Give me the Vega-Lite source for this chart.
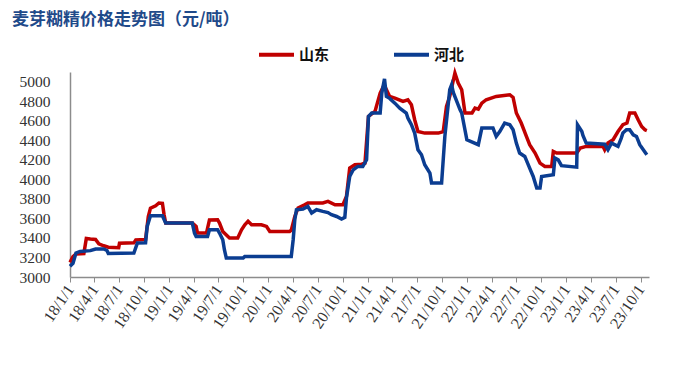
{
  "$schema": "https://vega.github.io/schema/vega-lite/v6.json",
  "width": 579,
  "height": 205,
  "autosize": {"type": "none"},
  "padding": {"left": 70, "top": 72, "right": 51, "bottom": 96},
  "background": "white",
  "config": {"view": {"stroke": null}},
  "title": {
    "text": "麦芽糊精价格走势图（元/吨）",
    "anchor": "start",
    "frame": "group",
    "dx": -58,
    "offset": 6,
    "font": "Noto Sans CJK SC",
    "fontSize": 17,
    "fontWeight": "bold",
    "color": "#1F4A8A"
  },
  "data": {
    "values": [
      {"date": "2018-01-01", "series": "山东", "price": 3150},
      {"date": "2018-01-12", "series": "山东", "price": 3210},
      {"date": "2018-01-23", "series": "山东", "price": 3235},
      {"date": "2018-02-21", "series": "山东", "price": 3240},
      {"date": "2018-03-02", "series": "山东", "price": 3395},
      {"date": "2018-03-17", "series": "山东", "price": 3390},
      {"date": "2018-04-05", "series": "山东", "price": 3385},
      {"date": "2018-04-17", "series": "山东", "price": 3340},
      {"date": "2018-05-05", "series": "山东", "price": 3320},
      {"date": "2018-05-22", "series": "山东", "price": 3305},
      {"date": "2018-06-29", "series": "山东", "price": 3300},
      {"date": "2018-07-02", "series": "山东", "price": 3345},
      {"date": "2018-08-24", "series": "山东", "price": 3350},
      {"date": "2018-08-31", "series": "山东", "price": 3380},
      {"date": "2018-10-06", "series": "山东", "price": 3385},
      {"date": "2018-10-16", "series": "山东", "price": 3620},
      {"date": "2018-10-24", "series": "山东", "price": 3705},
      {"date": "2018-11-12", "series": "山东", "price": 3730},
      {"date": "2018-11-24", "series": "山东", "price": 3758},
      {"date": "2018-12-07", "series": "山东", "price": 3755},
      {"date": "2018-12-13", "series": "山东", "price": 3640},
      {"date": "2018-12-19", "series": "山东", "price": 3553},
      {"date": "2019-03-27", "series": "山东", "price": 3553},
      {"date": "2019-04-10", "series": "山东", "price": 3518},
      {"date": "2019-04-15", "series": "山东", "price": 3450},
      {"date": "2019-05-18", "series": "山东", "price": 3450},
      {"date": "2019-05-29", "series": "山东", "price": 3585},
      {"date": "2019-06-28", "series": "山东", "price": 3587},
      {"date": "2019-07-05", "series": "山东", "price": 3553},
      {"date": "2019-07-17", "series": "山东", "price": 3467},
      {"date": "2019-08-05", "series": "山东", "price": 3416},
      {"date": "2019-08-11", "series": "山东", "price": 3400},
      {"date": "2019-09-10", "series": "山东", "price": 3400},
      {"date": "2019-09-24", "series": "山东", "price": 3484},
      {"date": "2019-10-06", "series": "山东", "price": 3535},
      {"date": "2019-10-18", "series": "山东", "price": 3570},
      {"date": "2019-10-31", "series": "山东", "price": 3535},
      {"date": "2019-12-06", "series": "山东", "price": 3535},
      {"date": "2019-12-25", "series": "山东", "price": 3518},
      {"date": "2020-01-06", "series": "山东", "price": 3467},
      {"date": "2020-03-19", "series": "山东", "price": 3467},
      {"date": "2020-03-25", "series": "山东", "price": 3480},
      {"date": "2020-04-07", "series": "山东", "price": 3620},
      {"date": "2020-04-19", "series": "山东", "price": 3707},
      {"date": "2020-05-13", "series": "山东", "price": 3740},
      {"date": "2020-05-25", "series": "山东", "price": 3758},
      {"date": "2020-07-19", "series": "山东", "price": 3758},
      {"date": "2020-08-07", "series": "山东", "price": 3774},
      {"date": "2020-09-02", "series": "山东", "price": 3740},
      {"date": "2020-10-01", "series": "山东", "price": 3740},
      {"date": "2020-10-14", "series": "山东", "price": 3826},
      {"date": "2020-10-26", "series": "山东", "price": 4116},
      {"date": "2020-11-14", "series": "山东", "price": 4150},
      {"date": "2020-12-09", "series": "山东", "price": 4155},
      {"date": "2020-12-21", "series": "山东", "price": 4165},
      {"date": "2021-01-03", "series": "山东", "price": 4645},
      {"date": "2021-01-27", "series": "山东", "price": 4696},
      {"date": "2021-02-15", "series": "山东", "price": 4884},
      {"date": "2021-02-27", "series": "山东", "price": 4952},
      {"date": "2021-03-03", "series": "山东", "price": 4960},
      {"date": "2021-03-22", "series": "山东", "price": 4850},
      {"date": "2021-04-10", "series": "山东", "price": 4833},
      {"date": "2021-05-10", "series": "山东", "price": 4798},
      {"date": "2021-05-28", "series": "山东", "price": 4815},
      {"date": "2021-06-10", "series": "山东", "price": 4764},
      {"date": "2021-06-22", "series": "山东", "price": 4611},
      {"date": "2021-07-04", "series": "山东", "price": 4490},
      {"date": "2021-07-29", "series": "山东", "price": 4474},
      {"date": "2021-09-17", "series": "山东", "price": 4474},
      {"date": "2021-10-05", "series": "山东", "price": 4490},
      {"date": "2021-10-17", "series": "山东", "price": 4747},
      {"date": "2021-10-29", "series": "山东", "price": 4850},
      {"date": "2021-11-17", "series": "山东", "price": 5089},
      {"date": "2021-11-29", "series": "山东", "price": 4986},
      {"date": "2021-12-12", "series": "山东", "price": 4918},
      {"date": "2021-12-18", "series": "山东", "price": 4800},
      {"date": "2021-12-24", "series": "山东", "price": 4680},
      {"date": "2022-01-19", "series": "山东", "price": 4680},
      {"date": "2022-01-30", "series": "山东", "price": 4730},
      {"date": "2022-02-11", "series": "山东", "price": 4720},
      {"date": "2022-02-24", "series": "山东", "price": 4781},
      {"date": "2022-03-12", "series": "山东", "price": 4816},
      {"date": "2022-04-18", "series": "山东", "price": 4850},
      {"date": "2022-06-07", "series": "山东", "price": 4867},
      {"date": "2022-06-19", "series": "山东", "price": 4840},
      {"date": "2022-07-01", "series": "山东", "price": 4680},
      {"date": "2022-07-19", "series": "山东", "price": 4577},
      {"date": "2022-08-07", "series": "山东", "price": 4440},
      {"date": "2022-08-19", "series": "山东", "price": 4355},
      {"date": "2022-09-08", "series": "山东", "price": 4270},
      {"date": "2022-09-26", "series": "山东", "price": 4167},
      {"date": "2022-10-14", "series": "山东", "price": 4133},
      {"date": "2022-11-08", "series": "山东", "price": 4133},
      {"date": "2022-11-14", "series": "山东", "price": 4286},
      {"date": "2022-11-26", "series": "山东", "price": 4270},
      {"date": "2023-02-08", "series": "山东", "price": 4270},
      {"date": "2023-02-21", "series": "山东", "price": 4321},
      {"date": "2023-03-15", "series": "山东", "price": 4338},
      {"date": "2023-05-16", "series": "山东", "price": 4338},
      {"date": "2023-05-22", "series": "山东", "price": 4304},
      {"date": "2023-06-03", "series": "山东", "price": 4372},
      {"date": "2023-06-22", "series": "山东", "price": 4406},
      {"date": "2023-07-10", "series": "山东", "price": 4490},
      {"date": "2023-07-28", "series": "山东", "price": 4560},
      {"date": "2023-08-12", "series": "山东", "price": 4577},
      {"date": "2023-08-22", "series": "山东", "price": 4680},
      {"date": "2023-09-10", "series": "山东", "price": 4680},
      {"date": "2023-09-22", "series": "山东", "price": 4611},
      {"date": "2023-10-05", "series": "山东", "price": 4542},
      {"date": "2023-10-17", "series": "山东", "price": 4508},
      {"date": "2023-10-24", "series": "山东", "price": 4500},

      {"date": "2018-01-01", "series": "河北", "price": 3110},
      {"date": "2018-01-12", "series": "河北", "price": 3140},
      {"date": "2018-01-23", "series": "河北", "price": 3246},
      {"date": "2018-02-07", "series": "河北", "price": 3262},
      {"date": "2018-03-17", "series": "河北", "price": 3270},
      {"date": "2018-04-05", "series": "河北", "price": 3287},
      {"date": "2018-05-05", "series": "河北", "price": 3287},
      {"date": "2018-05-17", "series": "河北", "price": 3272},
      {"date": "2018-05-22", "series": "河北", "price": 3240},
      {"date": "2018-08-24", "series": "河北", "price": 3245},
      {"date": "2018-09-06", "series": "河北", "price": 3348},
      {"date": "2018-10-06", "series": "河北", "price": 3350},
      {"date": "2018-10-12", "series": "河北", "price": 3518},
      {"date": "2018-10-24", "series": "河北", "price": 3628},
      {"date": "2018-12-07", "series": "河北", "price": 3628},
      {"date": "2018-12-19", "series": "河北", "price": 3553},
      {"date": "2019-03-27", "series": "河北", "price": 3553},
      {"date": "2019-04-04", "series": "河北", "price": 3450},
      {"date": "2019-04-10", "series": "河北", "price": 3416},
      {"date": "2019-05-22", "series": "河北", "price": 3416},
      {"date": "2019-05-29", "series": "河北", "price": 3484},
      {"date": "2019-06-28", "series": "河北", "price": 3484},
      {"date": "2019-07-05", "series": "河北", "price": 3450},
      {"date": "2019-07-17", "series": "河北", "price": 3382},
      {"date": "2019-07-23", "series": "河北", "price": 3280},
      {"date": "2019-07-30", "series": "河北", "price": 3194},
      {"date": "2019-09-30", "series": "河北", "price": 3194},
      {"date": "2019-10-06", "series": "河北", "price": 3211},
      {"date": "2020-03-25", "series": "河北", "price": 3211},
      {"date": "2020-04-01", "series": "河北", "price": 3382},
      {"date": "2020-04-07", "series": "河北", "price": 3587},
      {"date": "2020-04-13", "series": "河北", "price": 3689},
      {"date": "2020-05-07", "series": "河北", "price": 3696},
      {"date": "2020-05-25", "series": "河北", "price": 3723},
      {"date": "2020-06-08", "series": "河北", "price": 3655},
      {"date": "2020-06-26", "series": "河北", "price": 3689},
      {"date": "2020-07-19", "series": "河北", "price": 3672},
      {"date": "2020-08-07", "series": "河北", "price": 3660},
      {"date": "2020-08-20", "series": "河北", "price": 3638},
      {"date": "2020-09-08", "series": "河北", "price": 3620},
      {"date": "2020-09-26", "series": "河北", "price": 3594},
      {"date": "2020-10-08", "series": "河北", "price": 3610},
      {"date": "2020-10-14", "series": "河北", "price": 3809},
      {"date": "2020-10-26", "series": "河北", "price": 4030},
      {"date": "2020-11-08", "series": "河北", "price": 4099},
      {"date": "2020-11-25", "series": "河北", "price": 4133},
      {"date": "2020-12-13", "series": "河北", "price": 4133},
      {"date": "2020-12-27", "series": "河北", "price": 4201},
      {"date": "2021-01-03", "series": "河北", "price": 4645},
      {"date": "2021-01-15", "series": "河北", "price": 4680},
      {"date": "2021-02-15", "series": "河北", "price": 4680},
      {"date": "2021-02-21", "series": "河北", "price": 4884},
      {"date": "2021-03-03", "series": "河北", "price": 5030},
      {"date": "2021-03-10", "series": "河北", "price": 4850},
      {"date": "2021-03-22", "series": "河北", "price": 4830},
      {"date": "2021-04-10", "series": "河北", "price": 4781},
      {"date": "2021-04-28", "series": "河北", "price": 4730},
      {"date": "2021-05-22", "series": "河北", "price": 4680},
      {"date": "2021-05-28", "series": "河北", "price": 4628},
      {"date": "2021-06-10", "series": "河北", "price": 4560},
      {"date": "2021-06-22", "series": "河北", "price": 4474},
      {"date": "2021-07-04", "series": "河北", "price": 4304},
      {"date": "2021-07-17", "series": "河北", "price": 4252},
      {"date": "2021-07-29", "series": "河北", "price": 4150},
      {"date": "2021-08-17", "series": "河北", "price": 4065},
      {"date": "2021-08-23", "series": "河北", "price": 3962},
      {"date": "2021-09-29", "series": "河北", "price": 3962},
      {"date": "2021-10-11", "series": "河北", "price": 4440},
      {"date": "2021-10-29", "series": "河北", "price": 4918},
      {"date": "2021-11-05", "series": "河北", "price": 4969},
      {"date": "2021-11-11", "series": "河北", "price": 4890},
      {"date": "2021-12-06", "series": "河北", "price": 4713},
      {"date": "2021-12-12", "series": "河北", "price": 4680},
      {"date": "2021-12-31", "series": "河北", "price": 4406},
      {"date": "2022-02-11", "series": "河北", "price": 4355},
      {"date": "2022-02-24", "series": "河北", "price": 4526},
      {"date": "2022-04-06", "series": "河北", "price": 4526},
      {"date": "2022-04-18", "series": "河北", "price": 4440},
      {"date": "2022-05-01", "series": "河北", "price": 4490},
      {"date": "2022-05-19", "series": "河北", "price": 4577},
      {"date": "2022-06-07", "series": "河北", "price": 4560},
      {"date": "2022-06-19", "series": "河北", "price": 4508},
      {"date": "2022-07-01", "series": "河北", "price": 4372},
      {"date": "2022-07-13", "series": "河北", "price": 4270},
      {"date": "2022-08-01", "series": "河北", "price": 4235},
      {"date": "2022-08-19", "series": "河北", "price": 4116},
      {"date": "2022-09-01", "series": "河北", "price": 4030},
      {"date": "2022-09-14", "series": "河北", "price": 3911},
      {"date": "2022-09-26", "series": "河北", "price": 3911},
      {"date": "2022-10-02", "series": "河北", "price": 4030},
      {"date": "2022-11-14", "series": "河北", "price": 4047},
      {"date": "2022-11-20", "series": "河北", "price": 4218},
      {"date": "2022-12-02", "series": "河北", "price": 4200},
      {"date": "2022-12-14", "series": "河北", "price": 4140},
      {"date": "2023-02-08", "series": "河北", "price": 4125},
      {"date": "2023-02-11", "series": "河北", "price": 4560},
      {"date": "2023-02-27", "series": "河北", "price": 4490},
      {"date": "2023-03-03", "series": "河北", "price": 4450},
      {"date": "2023-03-15", "series": "河北", "price": 4372},
      {"date": "2023-05-22", "series": "河北", "price": 4360},
      {"date": "2023-06-03", "series": "河北", "price": 4304},
      {"date": "2023-06-16", "series": "河北", "price": 4372},
      {"date": "2023-07-10", "series": "河北", "price": 4338},
      {"date": "2023-07-22", "series": "河北", "price": 4423},
      {"date": "2023-07-28", "series": "河北", "price": 4475},
      {"date": "2023-08-10", "series": "河北", "price": 4508},
      {"date": "2023-08-22", "series": "河北", "price": 4508},
      {"date": "2023-09-04", "series": "河北", "price": 4457},
      {"date": "2023-09-16", "series": "河北", "price": 4440},
      {"date": "2023-09-28", "series": "河北", "price": 4355},
      {"date": "2023-10-11", "series": "河北", "price": 4304},
      {"date": "2023-10-24", "series": "河北", "price": 4252}
    ]
  },
  "mark": {"type": "line", "strokeWidth": 3.5, "interpolate": "linear"},
  "encoding": {
    "x": {
      "field": "date",
      "type": "temporal",
      "scale": {
        "type": "utc",
        "domain": [
          {"year": 2018, "month": 1, "date": 1, "utc": true},
          {"year": 2023, "month": 11, "date": 1, "utc": true}
        ],
        "nice": false
      },
      "axis": {
        "title": null,
        "labelExpr": "utcFormat(datum.value, '%y/%-m/%-d')",
        "tickCount": {"interval": "month", "step": 3},
        "labelAngle": -56,
        "labelFont": "Liberation Serif",
        "labelFontSize": 16,
        "labelColor": "#333333",
        "labelPadding": 4,
        "labelOverlap": false,
        "labelFlush": false,
        "grid": false,
        "ticks": true,
        "tickSize": 5,
        "tickColor": "#8c8c8c",
        "domainColor": "#8c8c8c",
        "domainWidth": 1.5
      }
    },
    "y": {
      "field": "price",
      "type": "quantitative",
      "scale": {"domain": [3000, 5100], "nice": false, "zero": false},
      "axis": {
        "title": null,
        "format": "d",
        "values": [3000, 3200, 3400, 3600, 3800, 4000, 4200, 4400, 4600, 4800, 5000],
        "labelFont": "Liberation Serif",
        "labelFontSize": 15.5,
        "labelColor": "#333333",
        "labelPadding": 20,
        "grid": false,
        "ticks": false,
        "domainColor": "#8c8c8c",
        "domainWidth": 1.5
      }
    },
    "color": {
      "field": "series",
      "type": "nominal",
      "sort": ["山东", "河北"],
      "scale": {"domain": ["山东", "河北"], "range": ["#C00000", "#0B3D91"]},
      "legend": {
        "title": null,
        "orient": "none",
        "legendX": 187,
        "legendY": -37,
        "direction": "horizontal",
        "padding": 0,
        "symbolType": "stroke",
        "symbolSize": 1225,
        "symbolStrokeWidth": 4,
        "labelFont": "Noto Sans CJK SC",
        "labelFontSize": 15,
        "labelFontWeight": "bold",
        "labelColor": "#111111",
        "labelOffset": 3,
        "columnPadding": 56
      }
    }
  }
}
